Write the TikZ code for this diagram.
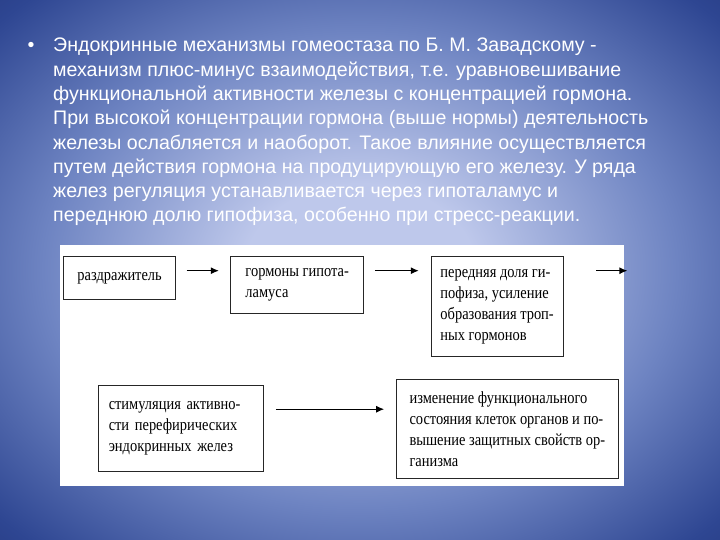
\documentclass[tikz,border=0pt]{standalone}
\usepackage{fontspec}
\setmainfont[FakeStretch=0.85]{Liberation Serif}
\newfontfamily\slidefont{Liberation Sans}
\usetikzlibrary{positioning,arrows.meta}
\definecolor{svet}{RGB}{190,200,235}
\definecolor{sred}{RGB}{110,132,194}
\definecolor{temn}{RGB}{46,70,146}
\definecolor{ugol}{RGB}{22,38,100}
\pgfdeclareradialshading{fon}{\pgfpoint{0bp}{0bp}}{color(0bp)=(svet); color(8bp)=(svet); color(22bp)=(sred); color(34bp)=(temn); color(46bp)=(ugol); color(50bp)=(ugol)}

\begin{document}
\begin{tikzpicture}[x=1pt,y=-1pt]
   \tikzset{slide/.style={text=white, inner sep=0pt, align=left, font=\slidefont\fontsize{19.6}{24.3}\selectfont}}
   \tikzset{blok/.style={draw=black!85, line width=0.9pt, fill=white, inner xsep=9.5pt, inner ysep=0pt, align=left, font=\fontsize{17}{21}\selectfont}}
   \tikzset{pil/.style={draw=black, line width=1.2pt, -{Latex[length=8pt,width=7pt]}}}
   \shade[shading=fon] (0,0) rectangle (720,540);
   \useasboundingbox (0,0) rectangle (720,540);
   \fill[white] (60,245) rectangle (624,486);

   \node [slide, anchor=north west] (tekst) at (53,38) {Эндокринные механизмы гомеостаза по Б. М. Завадскому -\\
     механизм плюс-минус взаимодействия, т.е. уравновешивание\\
     функциональной активности железы с концентрацией гормона.\\
     При высокой концентрации гормона (выше нормы) деятельность\\
     железы ослабляется и наоборот. Такое влияние осуществляется\\
     путем действия гормона на продуцирующую его железу. У ряда\\
     желез регуляция устанавливается через гипоталамус и\\
     переднюю долю гипофиза, особенно при стресс-реакции.};
   \node [slide, anchor=base] (tochka) at (31,52) {\textbullet};

   \node [blok, align=center, text width=92.7pt, minimum height=43pt, anchor=north west] (b1) at (63.3,256) {раздражитель};
   \node [blok, minimum width=133pt, minimum height=57pt, below right=0pt and 54.3pt of b1.north east] (b2) {гормоны гипота-\\ламуса};
   \node [blok, minimum width=123.6pt, minimum height=100pt, below right=0pt and 66.4pt of b2.north east] (b3) {передняя доля ги-\\пофиза, усиление\\образования троп-\\ных гормонов};
   \node [blok, inner xsep=10.6pt, text width=144.4pt, minimum height=85.7pt, below right=85.3pt and 34.4pt of b1.south west] (b4) {стимуляция активно-\\сти перефирических\\эндокринных желез};
   \node [blok, minimum width=221.4pt, minimum height=99pt, right=132pt of b4.north east, anchor=north west, yshift=6pt] (b5) {изменение функционального\\состояния клеток органов и по-\\вышение защитных свойств ор-\\ганизма};
   \coordinate [right=63.7pt of b3.north east, yshift=-14.7pt] (vyhod);

   \path [pil] ([shift={(10.7pt,-14.7pt)}]b1.north east) -- ([shift={(-11.3pt,-14.7pt)}]b2.north west);
   \path [pil] ([shift={(10.7pt,-14.7pt)}]b2.north east) -- ([shift={(-11.7pt,-14.7pt)}]b3.north west);
   \path [pil] ([shift={(32.7pt,-14.7pt)}]b3.north east) -- (vyhod);
   \path [pil] ([shift={(11.7pt,-24pt)}]b4.north east) -- ([shift={(-12pt,-30pt)}]b5.north west);
\end{tikzpicture}
\end{document}
